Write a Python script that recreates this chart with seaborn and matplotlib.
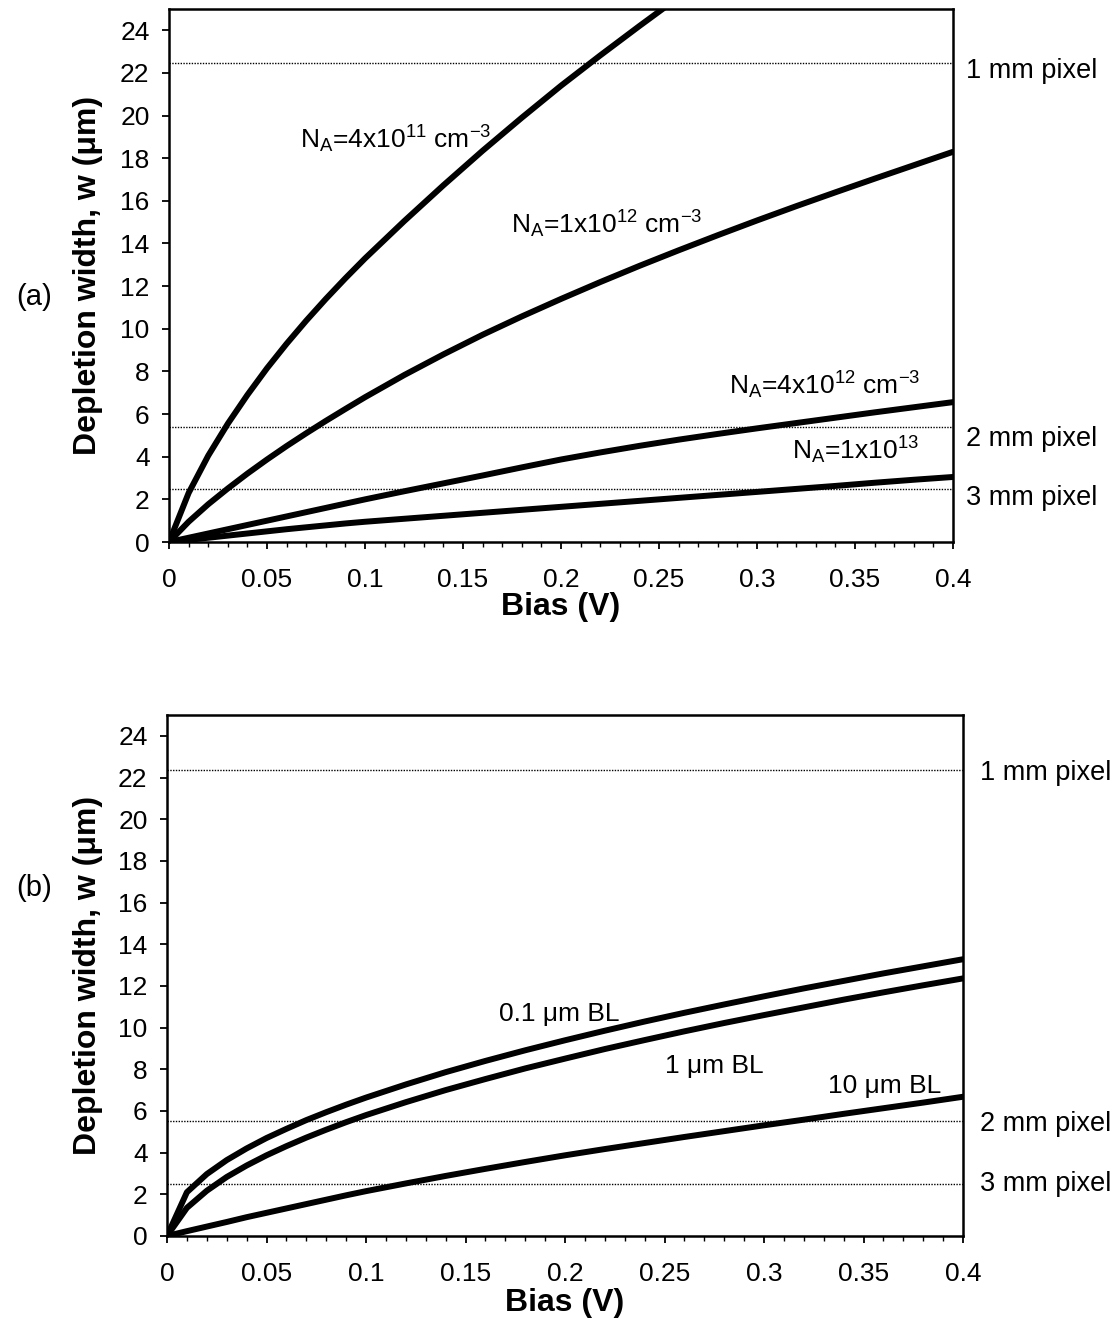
import matplotlib
matplotlib.use("Agg")
import matplotlib.pyplot as plt
import seaborn as sns
from matplotlib.ticker import MultipleLocator, FixedLocator

# ---------------- data ----------------
bias_a1 = [0, 0.01, 0.02, 0.03, 0.04, 0.05, 0.06, 0.07, 0.08, 0.09, 0.10,
           0.12, 0.14, 0.16, 0.18, 0.20, 0.22, 0.24, 0.26]
w_4e11 = [0, 2.3, 4.05, 5.55, 6.9, 8.15, 9.3, 10.38, 11.4, 12.37, 13.3,
          15.05, 16.73, 18.35, 19.9, 21.4, 22.82, 24.2, 25.55]

bias = [0, 0.01, 0.02, 0.03, 0.04, 0.05, 0.06, 0.07, 0.08, 0.09, 0.10,
        0.12, 0.14, 0.16, 0.18, 0.20, 0.22, 0.24, 0.26, 0.28, 0.30,
        0.32, 0.34, 0.36, 0.38, 0.40]
w_1e12 = [0, 0.95, 1.77, 2.51, 3.21, 3.87, 4.5, 5.1, 5.68, 6.24, 6.79,
          7.83, 8.8, 9.72, 10.58, 11.4, 12.19, 12.95, 13.68, 14.39, 15.08,
          15.75, 16.4, 17.04, 17.67, 18.3]
w_4e12 = [0, 0.2, 0.4, 0.6, 0.8, 1.0, 1.2, 1.4, 1.6, 1.8, 2.0,
          2.38, 2.75, 3.12, 3.5, 3.87, 4.2, 4.51, 4.8, 5.07, 5.33,
          5.58, 5.83, 6.08, 6.32, 6.56]
w_1e13 = [0, 0.1, 0.2, 0.3, 0.4, 0.5, 0.6, 0.69, 0.78, 0.87, 0.95,
          1.09, 1.23, 1.37, 1.51, 1.65, 1.79, 1.93, 2.07, 2.21, 2.35,
          2.49, 2.63, 2.78, 2.92, 3.05]

w_bl01 = [0, 2.1, 2.97, 3.64, 4.2, 4.7, 5.14, 5.56, 5.94, 6.3, 6.64,
          7.27, 7.86, 8.4, 8.91, 9.39, 9.85, 10.29, 10.71, 11.11, 11.5,
          11.88, 12.24, 12.6, 12.94, 13.28]
w_bl1 = [0, 1.35, 2.17, 2.83, 3.38, 3.87, 4.31, 4.72, 5.1, 5.46, 5.8,
         6.42, 7.0, 7.53, 8.04, 8.51, 8.97, 9.4, 9.82, 10.22, 10.6,
         10.97, 11.34, 11.69, 12.03, 12.36]
w_bl10 = [0, 0.23, 0.45, 0.67, 0.9, 1.11, 1.32, 1.53, 1.74, 1.95, 2.15,
          2.52, 2.88, 3.22, 3.55, 3.87, 4.17, 4.46, 4.75, 5.03, 5.31,
          5.58, 5.86, 6.13, 6.4, 6.68]

pixel_labels = ["1 mm pixel", "2 mm pixel", "3 mm pixel"]
pixel_w_a = [22.45, 5.4, 2.48]
pixel_w_b = [22.35, 5.52, 2.51]
label_w_a = [22.1, 4.85, 2.05]
label_w_b = [22.2, 5.35, 2.5]

xtick_vals = [0, 0.05, 0.1, 0.15, 0.2, 0.25, 0.3, 0.35, 0.4]
xtick_labels = ["0", "0.05", "0.1", "0.15", "0.2", "0.25", "0.3", "0.35", "0.4"]
ytick_vals = [0, 2, 4, 6, 8, 10, 12, 14, 16, 18, 20, 22, 24]

# ---------------- style ----------------
sns.set_theme(style="ticks")
plt.rcParams["font.family"] = ["Liberation Sans", "DejaVu Sans"]
plt.rcParams["mathtext.fontset"] = "custom"
plt.rcParams["mathtext.rm"] = "Liberation Sans"
plt.rcParams["mathtext.it"] = "Liberation Sans:italic"
plt.rcParams["mathtext.bf"] = "Liberation Sans:bold"
plt.rcParams["mathtext.default"] = "regular"
plt.rcParams["text.color"] = "black"
plt.rcParams["axes.labelcolor"] = "black"
plt.rcParams["xtick.color"] = "black"
plt.rcParams["ytick.color"] = "black"
plt.rcParams["axes.edgecolor"] = "black"

fig = plt.figure(figsize=(11.15, 13.35), dpi=100)
ax1 = fig.add_axes([0.1516, 0.594, 0.7031, 0.3993])
ax2 = fig.add_axes([0.1498, 0.0742, 0.7139, 0.3902])

LW = 4.3
TICK_FS = 19
LBL_FS = 23
RIGHT_FS = 19.5


def style_axes(ax, ylab_x, xlab_y):
    ax.set_xlim(0, 0.4)
    ax.set_ylim(0, 25)
    ax.xaxis.set_major_locator(FixedLocator(xtick_vals))
    ax.set_xticklabels(xtick_labels)
    ax.xaxis.set_minor_locator(MultipleLocator(0.01))
    ax.set_yticks(ytick_vals)
    ax.set_yticklabels([str(v) for v in ytick_vals])
    ax.tick_params(axis="both", which="major", direction="out", length=5,
                   width=1.3, labelsize=TICK_FS, color="black",
                   labelcolor="black")
    ax.tick_params(axis="x", which="minor", direction="out", length=3.5,
                   width=1.0, color="black")
    ax.tick_params(axis="x", which="major", pad=14)
    ax.tick_params(axis="y", which="major", pad=9)
    for s in ax.spines.values():
        s.set_visible(True)
        s.set_linewidth(1.8)
        s.set_color("black")
    ax.set_xlabel("Bias (V)", fontsize=LBL_FS, fontweight="bold",
                  color="black")
    ax.set_ylabel("Depletion width, w (μm)", fontsize=LBL_FS,
                  fontweight="bold", color="black")
    ax.yaxis.set_label_coords(ylab_x, 0.5)
    ax.xaxis.set_label_coords(0.5, xlab_y)
    ax.grid(False)


# ---------------- panel (a) ----------------
for xs, ys in [(bias_a1, w_4e11), (bias, w_1e12), (bias, w_4e12), (bias, w_1e13)]:
    sns.lineplot(x=xs, y=ys, ax=ax1, color="black", linewidth=LW,
                 legend=False, estimator=None)
for w in pixel_w_a:
    ax1.axhline(w, color="black", linewidth=1.0, linestyle=(0, (1, 1)))
for lab, w in zip(pixel_labels, label_w_a):
    ax1.text(0.4066, w, lab, fontsize=RIGHT_FS, ha="left", va="center",
             clip_on=False)
ax1.text(0.067, 18.9, r"N$_{A}$=4x10$^{11}$ cm$^{-3}$", fontsize=19,
         ha="left", va="center")
ax1.text(0.1745, 14.9, r"N$_{A}$=1x10$^{12}$ cm$^{-3}$", fontsize=19,
         ha="left", va="center")
ax1.text(0.2857, 7.35, r"N$_{A}$=4x10$^{12}$ cm$^{-3}$", fontsize=19,
         ha="left", va="center")
ax1.text(0.318, 4.3, r"N$_{A}$=1x10$^{13}$", fontsize=19,
         ha="left", va="center")
style_axes(ax1, -0.084, -0.093)

# ---------------- panel (b) ----------------
for ys in [w_bl01, w_bl1, w_bl10]:
    sns.lineplot(x=bias, y=ys, ax=ax2, color="black", linewidth=LW,
                 legend=False, estimator=None)
for w in pixel_w_b:
    ax2.axhline(w, color="black", linewidth=1.0, linestyle=(0, (1, 1)))
for lab, w in zip(pixel_labels, label_w_b):
    ax2.text(0.4085, w, lab, fontsize=RIGHT_FS, ha="left", va="center",
             clip_on=False)
ax2.text(0.1668, 10.64, "0.1 μm BL", fontsize=19, ha="left", va="center")
ax2.text(0.2502, 8.16, "1 μm BL", fontsize=19, ha="left", va="center")
ax2.text(0.3322, 7.2, "10 μm BL", fontsize=19, ha="left", va="center")
style_axes(ax2, -0.080, -0.100)

fig.text(34 / 1115, 1 - 297 / 1335, "(a)", fontsize=21, ha="center", va="center")
fig.text(34 / 1115, 1 - 888 / 1335, "(b)", fontsize=21, ha="center", va="center")

fig.savefig("out.png", dpi=100)
